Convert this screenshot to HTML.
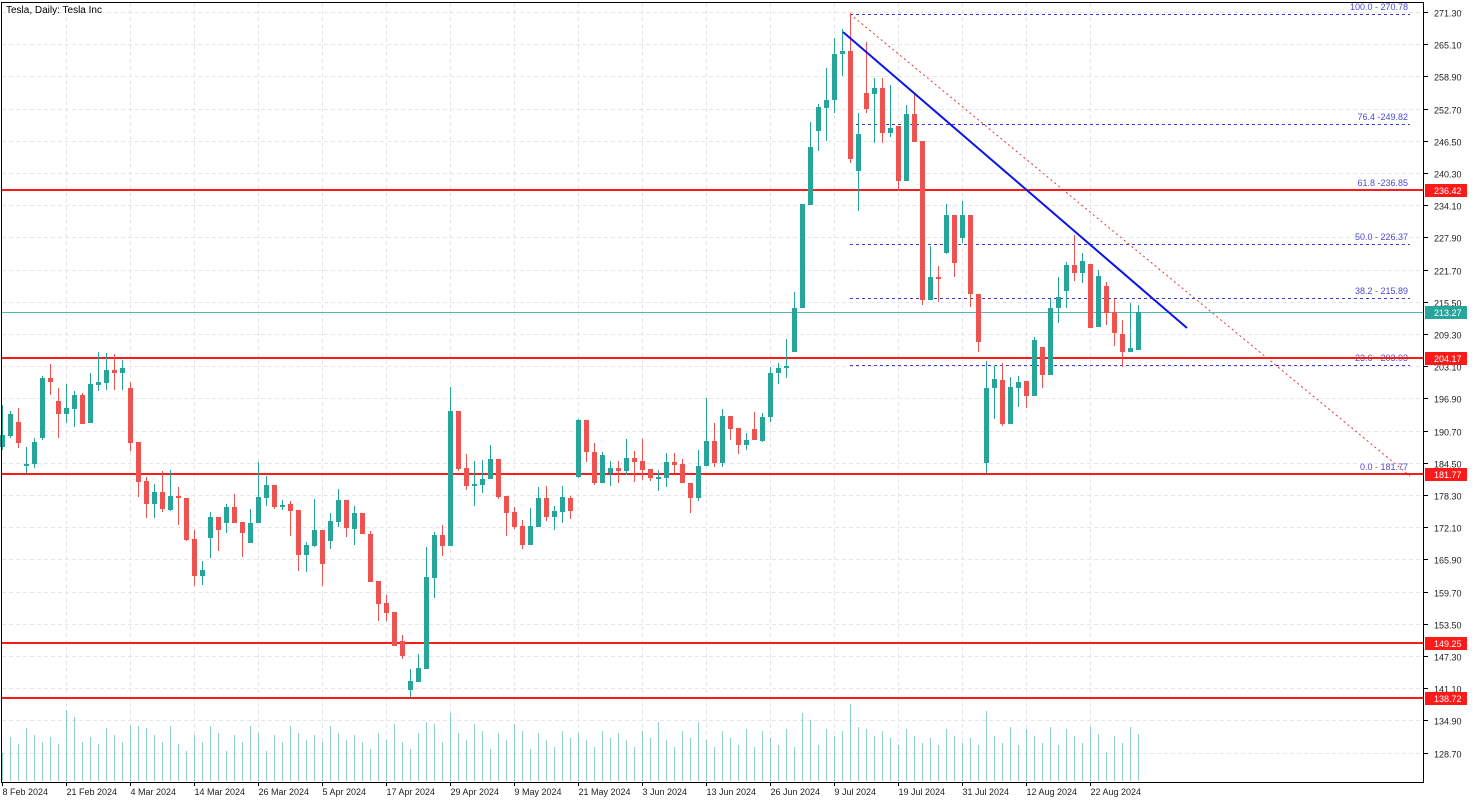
<!DOCTYPE html>
<html><head><meta charset="utf-8"><style>
html,body{margin:0;padding:0;background:#fff;width:1479px;height:803px;overflow:hidden}
svg{display:block;font-family:"Liberation Sans",sans-serif}
</style></head><body>
<svg id="s" width="1479" height="803" viewBox="0 0 1479 803"></svg>
<script>
const C=[
[0,'g',435,447,405,450],[1,'g',414,436,411,438],[2,'r',422,443,408,448],[3,'g',464,466,447,473],[4,'g',442,464,438,468],
[5,'g',378,438,376,440],[6,'r',378,382,364,395],[7,'r',401,414,388,438],[8,'g',408,414,384,423],[9,'g',395,409,391,427],
[10,'r',395,424,393,424],[11,'g',384,423,373,423],[12,'g',382,385,352,391],[13,'g',370,383,353,390],[14,'r',370,373,354,390],
[15,'g',368,373,360,390],[16,'r',388,443,382,451],[17,'r',442,482,442,497],[18,'r',481,504,477,518],[19,'g',492,504,484,518],
[20,'r',492,509,471,512],[21,'g',496,510,470,511],[22,'r',496,498,487,525],[23,'r',498,540,498,541],[24,'r',539,576,530,586],
[25,'g',570,576,561,585],[26,'g',517,538,512,558],[27,'r',517,530,517,551],[28,'g',507,523,504,533],[29,'r',507,523,494,523],
[30,'r',522,533,522,557],[31,'g',523,543,509,543],[32,'g',497,523,462,523],[33,'g',485,498,476,506],[34,'r',485,507,485,509],
[35,'g',505,507,500,510],[36,'r',504,511,501,536],[37,'r',510,555,510,571],[38,'g',545,555,542,572],[39,'g',530,546,499,547],
[40,'r',530,564,530,586],[41,'g',521,541,513,549],[42,'g',500,522,489,527],[43,'r',500,528,500,537],[44,'g',513,529,506,545],
[45,'r',513,534,513,534],[46,'r',534,582,531,582],[47,'r',581,604,581,621],[48,'r',603,613,595,621],[49,'r',612,646,612,646],
[50,'r',641,656,635,659],[51,'g',681,690,669,697],[52,'g',668,682,654,682],[53,'g',577,669,547,669],[54,'g',535,578,532,598],
[55,'r',535,546,525,556],[56,'g',411,546,387,546],[57,'r',411,469,411,471],[58,'r',468,486,454,490],[59,'g',484,486,461,506],
[60,'g',479,485,460,493],[61,'g',459,479,445,479],[62,'r',459,497,459,499],[63,'r',496,513,496,536],[64,'r',512,527,507,529],
[65,'r',526,545,520,549],[66,'g',526,545,508,545],[67,'g',498,527,487,527],[68,'r',498,517,486,521],[69,'g',511,517,506,530],
[70,'g',497,512,486,523],[71,'r',498,511,496,519],[72,'g',420,477,419,478],[73,'r',420,452,420,462],[74,'r',452,483,443,485],
[75,'g',455,483,452,483],[76,'g',468,473,461,486],[77,'r',468,471,461,483],[78,'g',458,471,439,475],[79,'r',458,462,451,482],
[80,'r',461,470,439,480],[81,'r',469,478,469,481],[82,'g',477,479,470,491],[83,'g',462,478,453,487],[84,'r',462,465,453,473],
[85,'r',464,483,459,483],[86,'r',483,498,483,513],[87,'g',466,498,450,501],[88,'g',441,466,398,466],[89,'r',441,463,423,467],
[90,'g',416,463,409,467],[91,'r',416,429,416,440],[92,'r',428,445,428,454],[93,'g',440,445,433,450],[94,'r',429,440,412,440],
[95,'g',417,441,413,442],[96,'g',373,417,367,422],[97,'g',368,373,363,384],[98,'g',366,368,339,378],[99,'g',308,352,292,352],
[100,'g',204,308,204,308],[101,'g',147,205,122,205],[102,'g',107,131,104,151],[103,'g',100,108,68,141],[104,'g',54,100,38,113],
[105,'g',51,54,29,76],[106,'r',51,159,13,163],[107,'g',134,171,113,211],[108,'r',93,109,42,113],[109,'g',88,94,78,143],
[110,'r',88,133,78,143],[111,'g',128,133,85,137],[112,'r',126,181,126,191],[113,'g',114,181,105,181],[114,'r',114,142,94,142],
[115,'r',141,300,141,305],[116,'g',277,300,246,300],[117,'r',277,279,266,302],[118,'g',215,253,204,254],[119,'r',215,263,215,277],
[120,'g',215,238,201,243],[121,'r',215,294,215,307],[122,'r',294,342,294,352],[123,'g',388,463,361,473],[124,'g',379,388,365,419],
[125,'r',380,424,363,426],[126,'g',387,424,377,424],[127,'g',382,388,376,407],[128,'r',381,396,381,408],[129,'g',340,396,337,396],
[130,'r',347,375,347,388],[131,'g',308,375,299,375],[132,'g',297,308,277,323],[133,'g',265,291,262,308],[134,'r',265,273,235,281],
[135,'g',261,273,253,283],[136,'r',264,328,264,328],[137,'g',276,327,270,327],[138,'r',286,313,282,325],[139,'r',312,333,299,346],
[140,'r',334,352,320,367],[141,'g',348,352,303,352],[142,'g',312,350,305,350]];
let h='';
const ticks=['271.30','265.10','258.90','252.70','246.50','240.30','234.10','227.90','221.70','215.50','209.30','203.10','196.90','190.70','184.50','178.30','172.10','165.90','159.70','153.50','147.30','141.10','134.90','128.70'];
ticks.forEach((t,k)=>{const y=Math.round(12+k*32.2)+.5;
 h+=`<line x1="2" x2="1424" y1="${y}" y2="${y}" stroke="#e6e6e6" stroke-dasharray="4,3"/>`;
 h+=`<line x1="1424" x2="1428" y1="${y}" y2="${y}" stroke="#000"/>`;
 h+=`<text x="1434" y="${y+4}" font-size="9" fill="#222">${t}</text>`;});
const dates=['8 Feb 2024','21 Feb 2024','4 Mar 2024','14 Mar 2024','26 Mar 2024','5 Apr 2024','17 Apr 2024','29 Apr 2024','9 May 2024','21 May 2024','3 Jun 2024','13 Jun 2024','26 Jun 2024','9 Jul 2024','19 Jul 2024','31 Jul 2024','12 Aug 2024','22 Aug 2024'];
dates.forEach((d,k)=>{const x=2+64*k+.5;
 if(k>0)h+=`<line x1="${x}" x2="${x}" y1="3" y2="782" stroke="#e6e6e6" stroke-dasharray="4,3"/>`;
 h+=`<line x1="${x}" x2="${x}" y1="782" y2="786" stroke="#000"/>`;
 h+=`<text x="${x}" y="795" font-size="9" fill="#222">${d}</text>`;});
for(let i=0;i<143;i++){const x=2+8*i+.5;let v=28+((i*37)%23)+((i*13)%11);
 if([8,9,17,53,56,100,101,106,107,123].includes(i))v+=18;if(i==106)v=77;if(i==56)v=68;
 h+=`<line x1="${x}" x2="${x}" y1="781" y2="${781-v}" stroke="#26a69a" stroke-opacity=".5" stroke-width="1.1"/>`;}
const fib=[[14,'100.0 - 270.78'],[124,'76.4 -249.82'],[190,'61.8 -236.85'],[244,'50.0 - 226.37'],[298,'38.2 - 215.89'],[365,'23.6 - 203.03'],[474,'0.0 - 181.77']];
fib.forEach(([y,t])=>{h+=`<line x1="850" x2="1410" y1="${y+.5}" y2="${y+.5}" stroke="#3a3ad0" stroke-dasharray="3,3"/>`;
 h+=`<text x="1408" y="${y-4}" font-size="9" fill="#4a4ad0" text-anchor="end">${t}</text>`;});
h+=`<line x1="850" y1="14" x2="1410" y2="476" stroke="#e33" stroke-dasharray="2,3"/>`;
h+=`<line x1="2" x2="1424" y1="312.5" y2="312.5" stroke="#26a69a" stroke-opacity=".8"/>`;
[[190,'236.42'],[358,'204.17'],[474,'181.77'],[643,'149.25'],[698,'138.72']].forEach(([y,t])=>{
 h+=`<line x1="2" x2="1424" y1="${y}" y2="${y}" stroke="#ff1a1a" stroke-width="2"/>`;
 h+=`<rect x="1425" y="${y-6}" width="42" height="13" fill="#ff1a1a"/><text x="1434" y="${y+4}" font-size="9" fill="#fff">${t}</text>`;});
h+=`<rect x="1425" y="306" width="42" height="13" fill="#26a69a"/><text x="1434" y="316" font-size="9" fill="#fff">213.27</text>`;
C.forEach(([i,c,a,b,hi,lo])=>{const x=2+8*i;const col=c=='g'?'#26a69a':'#ef5350';
 h+=`<line x1="${x+.5}" x2="${x+.5}" y1="${hi}" y2="${lo}" stroke="${col}"/>`;
 h+=`<rect x="${x-2}" y="${a}" width="5" height="${Math.max(1,b-a)}" fill="${col}"/>`;});
h+=`<line x1="843" y1="32" x2="1187" y2="328" stroke="#0a14e6" stroke-width="2"/>`;
h+=`<rect x="1.5" y="2.5" width="1422" height="780" fill="none" stroke="#000"/>`;
h+=`<text x="6" y="13" font-size="10" fill="#000">Tesla, Daily:  Tesla Inc</text>`;
document.getElementById('s').innerHTML=h;
</script>
</body></html>
